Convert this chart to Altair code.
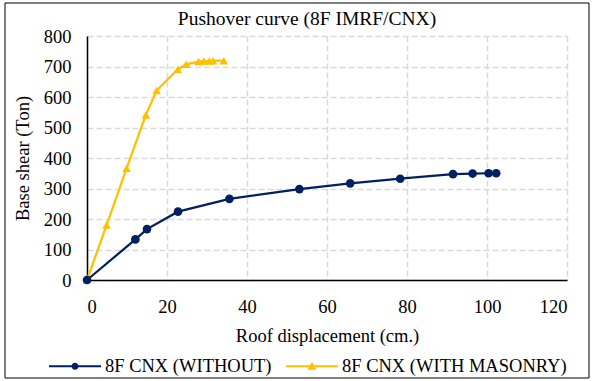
import altair as alt
import pandas as pd

# ---- data ----
series_names = ["8F CNX (WITHOUT)", "8F CNX (WITH MASONRY)"]
series_colors = ["#002060", "#FFC000"]

disp_without = [0, 12.1, 15.0, 22.75, 35.6, 53.1, 65.8, 78.3, 91.5, 96.4, 100.4, 102.3]
shear_without = [0, 133, 167, 224, 266, 298, 317, 332, 347, 349, 350, 350]

disp_with = [0, 4.9, 9.9, 14.7, 17.4, 22.7, 24.8, 27.9, 29.2, 30.6, 31.5, 34.2]
shear_with = [0, 180, 366, 541, 621, 691, 707, 716, 718, 718, 719, 719]

x_ticks = [0, 20, 40, 60, 80, 100, 120]
y_ticks = [0, 100, 200, 300, 400, 500, 600, 700, 800]

rows = []
for i, (x, y) in enumerate(zip(disp_with, shear_with)):
    rows.append({"series": series_names[1], "disp": x, "shear": y, "i": i})
for i, (x, y) in enumerate(zip(disp_without, shear_without)):
    rows.append({"series": series_names[0], "disp": x, "shear": y, "i": i})
df = pd.DataFrame(rows)

FONT = "Liberation Serif"
FS = 18.5

# legend symbols: line segment + marker (custom paths, unit = 26px)
leg_circle = ("M-1,-0.04H1V0.04H-1Z "
              "M-0.135,0A0.135,0.135 0 1,1 0.135,0A0.135,0.135 0 1,1 -0.135,0Z")
leg_tri = ("M-1,-0.04H1V0.04H-1Z "
           "M0,-0.17L0.17,0.13L-0.17,0.13Z")

x_enc = alt.X("disp:Q",
              scale=alt.Scale(domain=[0, 120], nice=False, zero=True),
              axis=alt.Axis(values=x_ticks, title="Roof displacement (cm.)",
                            grid=True, ticks=False, tickSize=0,
                            labelPadding=17, titlePadding=11,
                            labelFont=FONT, labelFontSize=FS, labelColor="black",
                            titleFont=FONT, titleFontSize=FS, titleColor="black",
                            titleFontWeight="normal",
                            gridColor="#D9D9D9", gridDash=[6, 3], gridWidth=1.5,
                            domainColor="black", domainWidth=1.5))
y_enc = alt.Y("shear:Q",
              scale=alt.Scale(domain=[0, 800], nice=False),
              axis=alt.Axis(values=y_ticks, title="Base shear (Ton)",
                            grid=True, ticks=False, tickSize=0,
                            labelPadding=16, titlePadding=11,
                            labelFont=FONT, labelFontSize=FS, labelColor="black",
                            titleFont=FONT, titleFontSize=FS, titleColor="black",
                            titleFontWeight="normal",
                            gridColor="#D9D9D9", gridDash=[6, 3], gridWidth=1.5,
                            domainColor="black", domainWidth=1.5))

color_scale = alt.Scale(domain=series_names, range=series_colors)

base = alt.Chart(df)

lines = base.mark_line(strokeWidth=2.25).encode(
    x=x_enc, y=y_enc,
    color=alt.Color("series:N", scale=color_scale, legend=None),
    order="i:Q",
    detail="series:N",
)

points = base.mark_point(filled=True, opacity=1, size=75).encode(
    x=x_enc, y=y_enc,
    color=alt.Color("series:N", scale=color_scale, legend=None),
    shape=alt.Shape("series:N",
                    scale=alt.Scale(domain=series_names, range=["circle", "triangle-up"]),
                    legend=None),
)

def make_legend():
    return alt.Legend(title=None, orient="none", direction="horizontal",
                      legendX=-39, legendY=303, padding=0,
                      symbolSize=2704, symbolOpacity=1,
                      labelOffset=3, columnPadding=11, labelLimit=400,
                      labelFont=FONT, labelFontSize=FS, labelColor="black")

legend_layer = base.mark_point(filled=True, opacity=0).encode(
    x=x_enc, y=y_enc,
    color=alt.Color("series:N", scale=color_scale, legend=make_legend()),
    shape=alt.Shape("series:N",
                    scale=alt.Scale(domain=series_names, range=[leg_circle, leg_tri]),
                    legend=make_legend()),
)

frame = alt.Chart(pd.DataFrame({"k": [0]})).mark_rect(
    fill="transparent", stroke="black", strokeWidth=1
).encode(x=alt.value(-82), x2=alt.value(502), y=alt.value(-33), y2=alt.value(342))

chart = alt.layer(frame, lines, points, legend_layer).resolve_scale(
    color="independent", shape="independent"
).properties(
    width=480, height=244,
    background="white",
    title=alt.TitleParams("Pushover curve (8F IMRF/CNX)", font=FONT, fontSize=19.5,
                          fontWeight="normal", color="black", anchor="middle",
                          frame="group", dx=-20, dy=35, offset=8),
    padding={"left": 87, "top": 36, "right": 27, "bottom": 101},
    autosize=alt.AutoSizeParams(type="none"),
).configure_view(stroke=None)

chart.save("out.html", embed_options={"renderer": "svg", "actions": False})
